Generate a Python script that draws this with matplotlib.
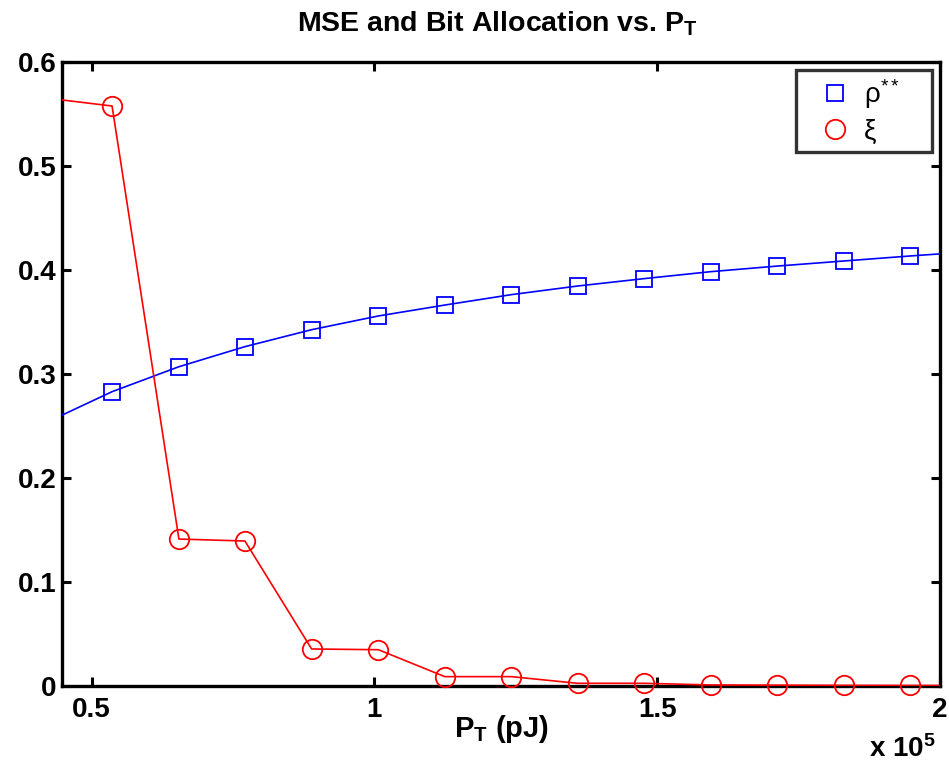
import matplotlib
matplotlib.use("Agg")
import matplotlib.pyplot as plt
from matplotlib.ticker import FuncFormatter

plt.rcParams['font.family'] = ['Liberation Sans', 'DejaVu Sans']
plt.rcParams['mathtext.fontset'] = 'custom'
plt.rcParams['mathtext.rm'] = 'Liberation Sans'
plt.rcParams['mathtext.bf'] = 'Liberation Sans:bold'
plt.rcParams['mathtext.it'] = 'Liberation Sans:italic'

# P_T values (pJ); first and last points lie just outside the visible range
p_t = [41870, 53630, 65450, 77120, 88910, 100710, 112450, 124210,
       135930, 147680, 159470, 171270, 183080, 194760, 206500]
rho = [0.253, 0.283, 0.307, 0.3263, 0.3426, 0.3558, 0.3663, 0.3763,
       0.3846, 0.3917, 0.3984, 0.4038, 0.4087, 0.4135, 0.418]
xi = [0.5654, 0.5577, 0.1413, 0.1394, 0.0356, 0.0349, 0.0090, 0.0090,
      0.0026, 0.0026, 0.0010, 0.0008, 0.0006, 0.0005, 0.0004]

x_ticks = [50000, 100000, 150000, 200000]
y_ticks = [0, 0.1, 0.2, 0.3, 0.4, 0.5, 0.6]

fig = plt.figure(figsize=(9.49, 7.65), dpi=100)
ax = fig.add_axes([62/949, 1-686/765, (940-62)/949, (686-62)/765])

ax.plot(p_t, rho, color='blue', lw=1.2, zorder=3)
ax.plot(p_t, xi, color='red', lw=1.2, zorder=3)
ax.plot(p_t[1:-1], rho[1:-1], ls='none', marker='s', ms=11, mfc='none',
        mec='blue', mew=1.3, zorder=4, clip_on=False, label=r'ρ$^{**}$')
ax.plot(p_t[1:-1], xi[1:-1], ls='none', marker='o', ms=14, mfc='none',
        mec='red', mew=1.3, zorder=4, clip_on=False, label='ξ')

ax.set_xlim(44780, 200000)
ax.set_ylim(0, 0.6)
ax.set_xticks(x_ticks)
ax.set_yticks(y_ticks)
ax.xaxis.set_major_formatter(FuncFormatter(lambda v, p: f"{v/1e5:g}"))
ax.yaxis.set_major_formatter(FuncFormatter(lambda v, p: f"{v:g}"))
ax.tick_params(direction='in', length=6.5, width=2.2, top=True, right=True,
               labelsize=20)
ax.tick_params(axis='x', pad=8)
ax.tick_params(axis='y', pad=4)
for lab in ax.get_xticklabels() + ax.get_yticklabels():
    lab.set_fontweight('bold')
for s in ax.spines.values():
    s.set_linewidth(2.4)
    s.set_zorder(2.5)

fig.text(297/949, 1-32/765, r'MSE and Bit Allocation vs. $\mathbf{P_T}$',
         ha='left', va='baseline', fontsize=20.5, fontweight='bold')
fig.text(501/949, 1-737/765, r'$\mathbf{P_T}$ (pJ)', ha='center',
         va='baseline', fontsize=21, fontweight='bold')
fig.text(936/949, 1-757/765, r'x 10$^{\mathbf{5}}$', ha='right',
         va='baseline', fontsize=20, fontweight='bold')

leg = ax.legend(loc='upper left', bbox_to_anchor=(0.836, 0.0, 0.155, 0.987),
                mode='expand', borderaxespad=0.0, fontsize=20, frameon=True,
                fancybox=False, handletextpad=-0.12, labelspacing=0.3,
                borderpad=0.25, handlelength=2.3)
leg.get_frame().set_edgecolor('black')
leg.get_frame().set_linewidth(2.4)

fig.savefig('out.png', dpi=100)
